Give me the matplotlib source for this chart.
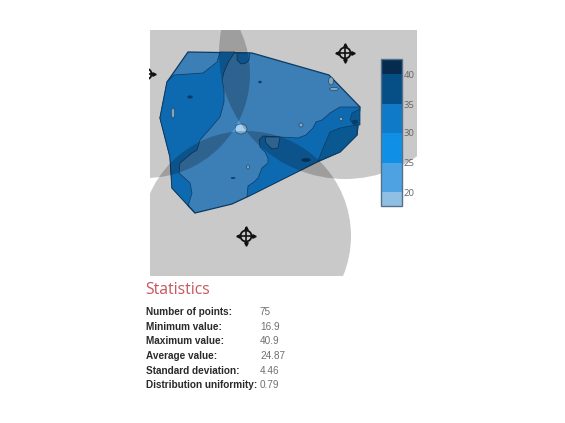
#!/usr/bin/env python3
"""Coverage map with three sensor zones, colour scale and statistics block"""

import matplotlib
matplotlib.use("Agg")
import matplotlib.pyplot as plt
from matplotlib.patches import Polygon, Circle, Rectangle, Ellipse

outline = [(188, 52), (252, 53), (329, 75), (360, 107), (357, 135), (340, 152), (317, 162),
           (247, 197), (232, 204), (195, 213), (172, 188), (170, 157), (160, 118), (167, 82)]

left_band = [(174, 75), (203, 73), (212, 66), (217, 62), (220, 52), (235, 52), (229, 61), (224, 72),
             (222, 80), (224, 90), (224, 102), (220, 117), (208, 131), (200, 140), (197, 150),
             (192, 153), (180, 163), (179, 173), (190, 183), (192, 193), (188, 206), (195, 213),
             (172, 188), (170, 157), (160, 118), (167, 82)]
top_band = [(237, 53), (250, 53), (249, 60), (246, 63), (241, 64), (237, 60)]
right_band = [(360, 107), (340, 107), (330, 113), (322, 120), (316, 122), (313, 128), (306, 135),
              (298, 138), (280, 137), (263, 136), (259, 140), (260, 147), (265, 152), (268, 158),
              (268, 163), (262, 168), (258, 178), (254, 182), (248, 186), (247, 197), (317, 162),
              (340, 152), (357, 135)]
right_dark = [(318, 161), (324, 146), (330, 132), (340, 128), (350, 126), (357, 125), (357, 135),
              (340, 152)]
corner_dark = [(350, 120), (352, 113), (360, 109), (360, 125), (354, 125)]
island_light = [(265, 137), (280, 137), (278, 148), (272, 149), (266, 143)]

dark_blobs = [(190, 97, 5, 2.5), (260, 82, 3, 2), (233, 178, 4, 1.5), (355, 122, 6, 4), (306, 160, 9, 3)]
light_blobs = [(173, 113, 3.5, 10), (248, 167, 3, 4), (301, 125, 4, 4), (341, 119, 3.5, 3.5),
               (331, 81, 5, 8), (334, 89, 9, 3), (241, 129, 12, 10)]

sensors = [(345, 53), (146, 74), (246, 236)]
sensor_radius = [126, 104, 105]

scale_edges = [206, 192, 163, 133, 104, 74, 59]
scale_colors = ['#8fbfe3', '#4ea2e2', '#0f90e6', '#0f7ac8', '#064f86', '#052c4f']
scale_labels = ['20', '25', '30', '35', '40']
scale_ticks = [193, 164, 134, 105, 75]

stat_names = ['Number of points:', 'Minimum value:', 'Maximum value:', 'Average value:',
              'Standard deviation:', 'Distribution uniformity:']
stat_values = ['75', '16.9', '40.9', '24.87', '4.46', '0.79']
stat_rows = [312, 327, 341, 356, 371, 385]

BASE = '#4da0e8'
MID = '#1287e0'
DARK = '#064f86'
EDGE = '#0f4a7a'

plt.rcParams['font.family'] = ['Liberation Sans', 'DejaVu Sans']
fig = plt.figure(figsize=(5.65, 4.23), dpi=100)
ax = fig.add_axes([0, 0, 1, 1])
ax.set_xlim(0, 565)
ax.set_ylim(423, 0)
ax.axis('off')

# contour map
ax.add_patch(Polygon(outline, fc=BASE, ec=EDGE, lw=0.9, zorder=2))
for pts, col in [(left_band, MID), (top_band, MID), (right_band, MID), (right_dark, '#0d70ba'),
                 (corner_dark, '#0d70ba'), (island_light, BASE)]:
    ax.add_patch(Polygon(pts, fc=col, ec=EDGE, lw=0.5, zorder=3))
for x, y, w, h in dark_blobs:
    ax.add_patch(Ellipse((x, y), w, h, fc=DARK, ec=EDGE, lw=0.3, zorder=4))
for x, y, w, h in light_blobs:
    ax.add_patch(Ellipse((x, y), w, h, fc='#a9d2ef', ec=EDGE, lw=0.4, zorder=4))

# sensor zones sit on top of the map, clipped to the plot rectangle
clip = Rectangle((150, 30), 267, 246, transform=ax.transData)
for (x, y), r in zip(sensors, sensor_radius):
    c = Circle((x, y), r, fc='black', ec='none', alpha=0.21, zorder=5)
    ax.add_patch(c)
    c.set_clip_path(clip)

# crosshair markers
for x, y in sensors:
    ring = Circle((x, y), 5.5, fc='none', ec='#111111', lw=1.3, zorder=6)
    ax.add_patch(ring)
    parts = [ring]
    parts += ax.plot([x - 8, x + 8], [y, y], color='#111111', lw=1.2, zorder=6)
    parts += ax.plot([x, x], [y - 8, y + 8], color='#111111', lw=1.2, zorder=6)
    for mx, my, mk in [(x - 8, y, '<'), (x + 8, y, '>'), (x, y - 8, '^'), (x, y + 8, 'v')]:
        parts += ax.plot([mx], [my], mk, color='#111111', ms=2.5, zorder=6)
    for p in parts:
        p.set_clip_path(Rectangle((149, 30), 268, 246, transform=ax.transData))

# colour scale
for i, col in enumerate(scale_colors):
    ax.add_patch(Rectangle((381, scale_edges[i + 1]), 21, scale_edges[i] - scale_edges[i + 1],
                           fc=col, ec='none', zorder=7))
ax.add_patch(Rectangle((381, 59), 21, 147, fc='none', ec='#55708a', lw=1, zorder=8))
for y, label in zip(scale_ticks, scale_labels):
    ax.text(404, y, label, fontsize=6.8, color='#666666', va='center', ha='left',
            family=['Open Sans', 'DejaVu Sans'], zorder=8)

# statistics block
ax.text(145, 290, 'Statistics', fontsize=11.3, color='#c9565b', va='center', ha='left',
        family=['Open Sans', 'DejaVu Sans'])
for y, name, value in zip(stat_rows, stat_names, stat_values):
    ax.text(146, y, name, fontsize=7.2, fontweight='bold', color='#2a2a2a', va='center', ha='left')
    ax.text(260, y, value, fontsize=7.2, color='#707070', va='center', ha='left')

fig.savefig('out.png', dpi=100)
